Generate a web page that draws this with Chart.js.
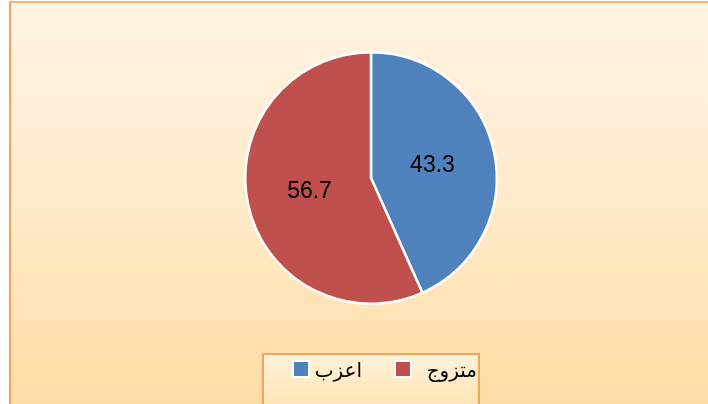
<!DOCTYPE html>
<html lang="ar">
  <head>
    <meta charset="UTF-8" />
    <title>pie</title>
    <script src="https://cdn.jsdelivr.net/npm/chart.js@4.4.0/dist/chart.umd.min.js"></script>
    <style>
      html, body { margin: 0; padding: 0; background: #fff; }
      .panel {
        position: absolute;
        left: 9px;
        top: 1px;
        width: 720px;
        height: 420px;
        border-left: 2px solid #f7a160;
        border-top: 2px solid #f7b27a;
        background: linear-gradient(to bottom, #fff3e2 0%, #ffebcc 45%, #fddc9f 100%);
      }
      .chart-view { position: absolute; left: 0; top: 0; width: 708px; height: 404px; }
    </style>
  </head>
  <body>
    <div class="panel"></div>
    <div class="chart-view">
      <canvas id="chart"></canvas>
    </div>

    <script>
      const labels = ['اعزب', 'متزوج'];
      const values = [43.3, 56.7];
      const colors = ['#4f81bd', '#c0504d'];

      // value labels at half radius
      const sliceLabels = {
        id: 'sliceLabels',
        afterDatasetsDraw(chart) {
          const ctx = chart.ctx;
          const meta = chart.getDatasetMeta(0);
          ctx.save();
          ctx.font = '23px "Liberation Sans", Arial, sans-serif';
          ctx.fillStyle = '#000';
          ctx.textAlign = 'center';
          ctx.textBaseline = 'middle';
          meta.data.forEach((arc, i) => {
            const p = arc.tooltipPosition();
            ctx.fillText(values[i].toFixed(1), p.x, p.y + 1);
          });
          ctx.restore();
        }
      };

      // boxed legend under the pie
      const boxLegend = {
        id: 'boxLegend',
        afterDraw(chart) {
          const ctx = chart.ctx;
          ctx.save();
          const bx = 263, by = 354, bw = 216, bh = 60;
          const g = ctx.createLinearGradient(0, by, 0, by + bh);
          g.addColorStop(0, '#fff2dc');
          g.addColorStop(1, '#fde2ad');
          ctx.fillStyle = g;
          ctx.fillRect(bx, by, bw, bh);
          ctx.strokeStyle = '#f7a160';
          ctx.lineWidth = 2;
          ctx.strokeRect(bx, by, bw, bh);
          const items = [
            { x: 293, tx: 362 },
            { x: 395, tx: 477 }
          ];
          ctx.font = '20px "DejaVu Sans", "Noto Sans", sans-serif';
          ctx.textBaseline = 'middle';
          ctx.textAlign = 'right';
          items.forEach((it, i) => {
            ctx.fillStyle = '#fff';
            ctx.fillRect(it.x - 1, 360, 18, 18);
            ctx.fillStyle = colors[i];
            ctx.fillRect(it.x + 1, 362, 14, 14);
            ctx.fillStyle = '#000';
            ctx.fillText(labels[i], it.tx, 372);
          });
          ctx.restore();
        }
      };

      const data = {
        labels: labels,
        datasets: [
          {
            data: values,
            backgroundColor: colors,
            borderColor: '#ffffff',
            borderWidth: 2.5
          }
        ]
      };

      const config = {
        type: 'pie',
        data: data,
        options: {
          responsive: true,
          maintainAspectRatio: false,
          animation: false,
          layout: { padding: { top: 51, bottom: 99, left: 34, right: 0 } },
          plugins: {
            legend: { display: false },
            tooltip: { enabled: false }
          }
        },
        plugins: [sliceLabels, boxLegend]
      };

      const ctx = document.getElementById('chart');
      const chart = new Chart(ctx, config);
    </script>
  </body>
</html>
